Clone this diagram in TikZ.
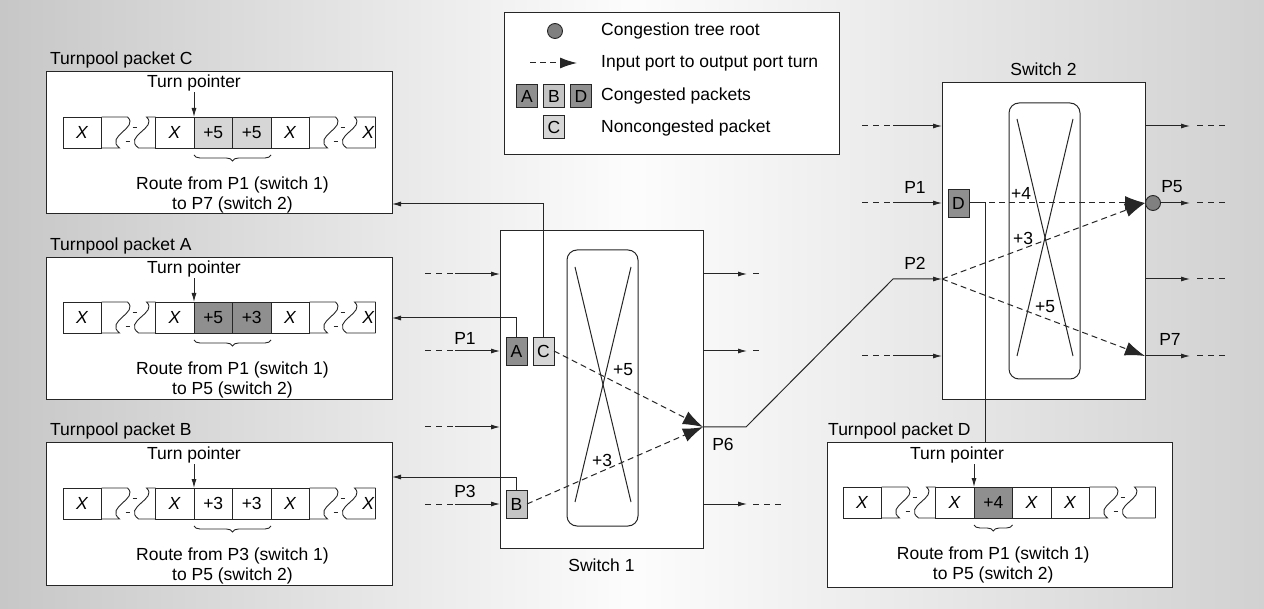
\documentclass[tikz,border=0pt]{standalone}
\usepackage{fontspec}
\setmainfont{Liberation Sans}
\usetikzlibrary{positioning, calc, arrows.meta, decorations.pathreplacing}

\definecolor{ink}{gray}{0.15}
\definecolor{darkpkt}{gray}{0.56}
\definecolor{midpkt}{gray}{0.77}
\definecolor{lightpkt}{gray}{0.84}
\definecolor{rootgray}{gray}{0.5}

\tikzstyle{panel} = [rectangle, draw=ink, fill=white, line width=1pt, inner sep=0pt, outer sep=0pt, anchor=north west]
\tikzstyle{fabric} = [rectangle, rounded corners=10pt, draw=ink, line width=1pt, inner sep=0pt, outer sep=0pt, anchor=north west]
\tikzstyle{cell} = [rectangle, draw=ink, fill=white, line width=0.9pt, minimum width=38.5pt, minimum height=31pt, inner sep=0pt, outer sep=0pt]
\tikzstyle{pkt} = [rectangle, draw=ink, line width=0.9pt, minimum width=21pt, minimum height=28pt, inner sep=0pt, outer sep=0pt]
\tikzstyle{txt} = [inner sep=1pt]
\tikzstyle{wire} = [draw=ink, line width=1pt]
\tikzstyle{arrow} = [wire, -{Latex[length=9pt, width=5pt]}]
\tikzstyle{stub} = [wire, dash pattern=on 6pt off 5pt]
\tikzstyle{turn} = [wire, dash pattern=on 6pt off 4pt, -{Latex[length=20pt, width=14pt]}]
\tikzstyle{routebrace} = [wire, line width=0.9pt, decorate, decoration={brace, mirror, amplitude=6pt}]

% torn piece of a turnpool: #1 top left corner, #2 length
\newcommand{\tearmark}[2]{%
  \draw [wire, line width=0.9pt] (#1) -- ($(#1)+(26,0)$) .. controls ($(#1)+(38,11)$) and ($(#1)+(3,19)$) .. ($(#1)+(18,31)$) -- ($(#1)+(0,31)$);
  \draw [wire, line width=0.9pt] ($(#1)+(#2,0)$) -- ($(#1)+(45,0)$) .. controls ($(#1)+(57,11)$) and ($(#1)+(21,19)$) .. ($(#1)+(37,31)$) -- ($(#1)+(#2,31)$);
  \draw [wire, line width=0.9pt] ($(#1)+(31,10)$) -- ++(4,0) ($(#1)+(24,24)$) -- ++(4,0);
}

% turnpool strip: name, top left, style/text of the two turn cells, last text
\newcommand{\turnstrip}[7]{%
  \node (#1a) [cell, anchor=north west] at (#2) {\textit{X}};
  \tearmark{#1a.north east}{54}
  \node (#1b) [cell, right=54pt of #1a] {\textit{X}};
  \node (#1c) [cell, right=0pt of #1b, #3] {#4};
  \node (#1d) [cell, right=0pt of #1c, #5] {#6};
  \node (#1e) [cell, right=0pt of #1d] {\textit{X}};
  \tearmark{#1e.north east}{66}
  \draw [wire, line width=0.9pt] ($(#1e.north east)+(66,0)$) -- ($(#1e.south east)+(66,0)$);
  \node (#1f) [txt] at ($(#1e.east)+(59,0)$) {#7};
}

\begin{document}
\begin{tikzpicture}[x=1pt, y=-1pt, node distance=6pt, font=\fontsize{17.5}{20}\selectfont]
        % Background
        \shade [left color=black!22, right color=black!18, middle color=black!1] (0,0) rectangle (1264,609);

        % Turnpool packets
        \node (boxC) [panel, minimum width=346pt, minimum height=142pt] at (46,72) {};
        \node (boxA) [panel, minimum width=346pt, minimum height=142pt] at (46,258) {};
        \node (boxB) [panel, minimum width=346pt, minimum height=142pt] at (46,443) {};
        \node (boxD) [panel, minimum width=345pt, minimum height=144pt] at (827,443) {};
        \node (titleC) [txt, above right=3pt and 3pt of boxC.north west] {Turnpool packet C};
        \node (titleA) [txt, above right=3pt and 3pt of boxA.north west] {Turnpool packet A};
        \node (titleB) [txt, above right=3pt and 3pt of boxB.north west] {Turnpool packet B};
        \node (titleD) [txt, above right=3pt and 0pt of boxD.north west] {Turnpool packet D};

        \turnstrip{C}{63,117}{fill=lightpkt}{+5}{fill=lightpkt}{+5}{\textit{X}}
        \turnstrip{A}{63,302}{fill=darkpkt}{+5}{fill=darkpkt}{+3}{\textit{X}}
        \turnstrip{B}{63,488}{}{+3}{}{+3}{\textit{X}}
        \turnstrip{D}{843,487}{fill=darkpkt}{+4}{}{\textit{X}}{}

        \foreach \p/\x/\y in {C/194/83, A/194/269, B/194/455, D/957/455} {
            \node (tp\p) [txt] at (\x,\y) {Turn pointer};
            \draw [arrow] (tp\p.south -| \p c.north west) -- (\p c.north west);
        }
        \draw [routebrace] ($(Cc.south west)+(0,7)$) -- ($(Cd.south east)+(0,7)$);
        \draw [routebrace] ($(Ac.south west)+(0,7)$) -- ($(Ad.south east)+(0,7)$);
        \draw [routebrace] ($(Bc.south west)+(0,7)$) -- ($(Bd.south east)+(0,7)$);
        \draw [routebrace] ($(Dc.south west)+(0,7)$) -- ($(Dc.south east)+(0,7)$);
        \node (routeC) [txt, align=center] at ($(Cc.south east)+(0,47)$) {Route from P1 (switch 1)\\to P7 (switch 2)};
        \node (routeA) [txt, align=center] at ($(Ac.south east)+(0,47)$) {Route from P1 (switch 1)\\to P5 (switch 2)};
        \node (routeB) [txt, align=center] at ($(Bc.south east)+(0,47)$) {Route from P3 (switch 1)\\to P5 (switch 2)};
        \node (routeD) [txt, align=center] at ($(Dc.south)+(0,47)$) {Route from P1 (switch 1)\\to P5 (switch 2)};

        % Legend
        \node (legend) [panel, minimum width=335pt, minimum height=142pt] at (504,13) {};
        \node (rootkey) [circle, draw=ink, fill=rootgray, line width=0.9pt, minimum size=15pt, inner sep=0pt] at (555,31) {};
        \coordinate (turnkeyA) at (530,63);
        \coordinate (turnkeyB) at (577,63);
        \node (keyA) [pkt, fill=darkpkt, minimum height=23pt] at (527,96) {A};
        \node (keyB) [pkt, fill=midpkt, minimum height=23pt, right=6pt of keyA] {B};
        \node (keyD) [pkt, fill=darkpkt, minimum height=23pt, right=6pt of keyB] {D};
        \node (keyC) [pkt, fill=lightpkt, minimum height=23pt, below=8pt of keyB] {C};
        \node (lg1) [txt, anchor=west] at (600,31) {Congestion tree root};
        \node (lg2) [txt, anchor=west] at (600,63) {Input port to output port turn};
        \node (lg3) [txt, anchor=west] at (600,96) {Congested packets};
        \node (lg4) [txt, anchor=west] at (600,128) {Noncongested packet};

        % Switches
        \node (sw1) [panel, minimum width=203pt, minimum height=317pt] at (500,231) {};
        \node (fab1) [fabric, minimum width=71pt, minimum height=276pt] at (567,250) {};
        \draw [wire] ($(fab1.north west)+(8,17)$) -- ($(fab1.south east)+(-7,-24)$);
        \draw [wire] ($(fab1.north east)+(-7,17)$) -- ($(fab1.south west)+(8,-24)$);
        \node (sw1name) [txt, below=10pt of sw1] {Switch 1};
        \node (sw2) [panel, minimum width=203pt, minimum height=317pt] at (942,83) {};
        \node (fab2) [fabric, minimum width=71pt, minimum height=276pt] at (1009,103) {};
        \draw [wire] ($(fab2.north west)+(8,16)$) -- ($(fab2.south east)+(-7,-23)$);
        \draw [wire] ($(fab2.north east)+(-7,16)$) -- ($(fab2.south west)+(8,-23)$);
        \node (sw2name) [txt, above=6pt of sw2] {Switch 2};

        \foreach \n/\dy in {1/43, 2/120, 3/196, 4/273} {
            \coordinate (s1in\n) at ($(sw1.north west)+(0,\dy)$);
            \coordinate (s1out\n) at ($(sw1.north east)+(0,\dy)$);
            \coordinate (s2in\n) at ($(sw2.north west)+(0,\dy)$);
            \coordinate (s2out\n) at ($(sw2.north east)+(0,\dy)$);
        }
        \node (pA) [pkt, fill=darkpkt] at ($(s1in2)+(16.5,0)$) {A};
        \node (pC) [pkt, fill=lightpkt, right=6pt of pA] {C};
        \node (pB) [pkt, fill=midpkt] at ($(s1in4)+(16.5,0)$) {B};
        \node (pD) [pkt, fill=darkpkt] at ($(s2in2)+(16.5,0)$) {D};

        % Arrows
        \foreach \n in {1,...,4} {
            \draw [stub] ($(s1in\n)+(-75,0)$) -- ++(30,0);
            \draw [arrow] ($(s1in\n)+(-45,0)$) -- (s1in\n);
        }
        \foreach \n in {1,2,4} {
            \draw [stub] ($(s2in\n)+(-80,0)$) -- ++(31,0);
            \draw [arrow] ($(s2in\n)+(-49,0)$) -- (s2in\n);
            \draw [arrow] (s1out\n) -- ++(44,0);
        }
        \draw [stub] ($(s1out1)+(50,0)$) -- ++(8,0);
        \draw [stub] ($(s1out2)+(50,0)$) -- ++(8,0);
        \draw [stub] ($(s1out4)+(50,0)$) -- ++(30,0);
        \foreach \n in {1,3,4} {
            \draw [arrow] (s2out\n) -- ++(45,0);
            \draw [stub] ($(s2out\n)+(52,0)$) -- ++(28,0);
        }
        \draw [arrow] (s1out3) -- ++(43,0) -- ($(s2in3)+(-49,0)$) -- (s2in3);

        \draw [turn] (pC.east) -- (s1out3);
        \draw [turn] (pB.east) -- (s1out3);
        \draw [turn] (pD.east) -- (s2out2);
        \draw [turn] (s2in3) -- (s2out2);
        \draw [turn] (s2in3) -- (s2out4);
        \draw [turn, -{Latex[length=17pt, width=11pt]}] (turnkeyA) -- (turnkeyB);

        \node (root) [circle, draw=ink, fill=rootgray, line width=0.9pt, minimum size=15pt, inner sep=0pt] at ($(s2out2)+(8,0)$) {};
        \draw [arrow] (root.east) -- ($(s2out2)+(45,0)$);
        \draw [stub] ($(s2out2)+(52,0)$) -- ++(28,0);

        \draw [arrow] (pC.north) |- ($(boxC.north east)+(0,132)$);
        \draw [arrow] (pA.north) |- ($(boxA.north east)+(0,60)$);
        \draw [arrow] (pB.north) |- ($(boxB.north east)+(0,34)$);
        \draw [wire] (pD.east) -| ($(boxD.north west)+(158,0)$);

        % Port labels
        \node (lP1a) [txt] at (465,338) {P1};
        \node (lP3) [txt] at (465,491) {P3};
        \node (lP6) [txt] at (723,444) {P6};
        \node (t5a) [txt] at (623,370) {+5};
        \node (t3a) [txt] at (602,460) {+3};
        \node (lP1b) [txt] at (915,187) {P1};
        \node (lP2) [txt] at (915,263) {P2};
        \node (lP5) [txt] at (1172,187) {P5};
        \node (lP7) [txt] at (1170,339) {P7};
        \node (t4) [txt] at (1021,193) {+4};
        \node (t3b) [txt] at (1023,238) {+3};
        \node (t5b) [txt] at (1045,307) {+5};
    \end{tikzpicture}
\end{document}
